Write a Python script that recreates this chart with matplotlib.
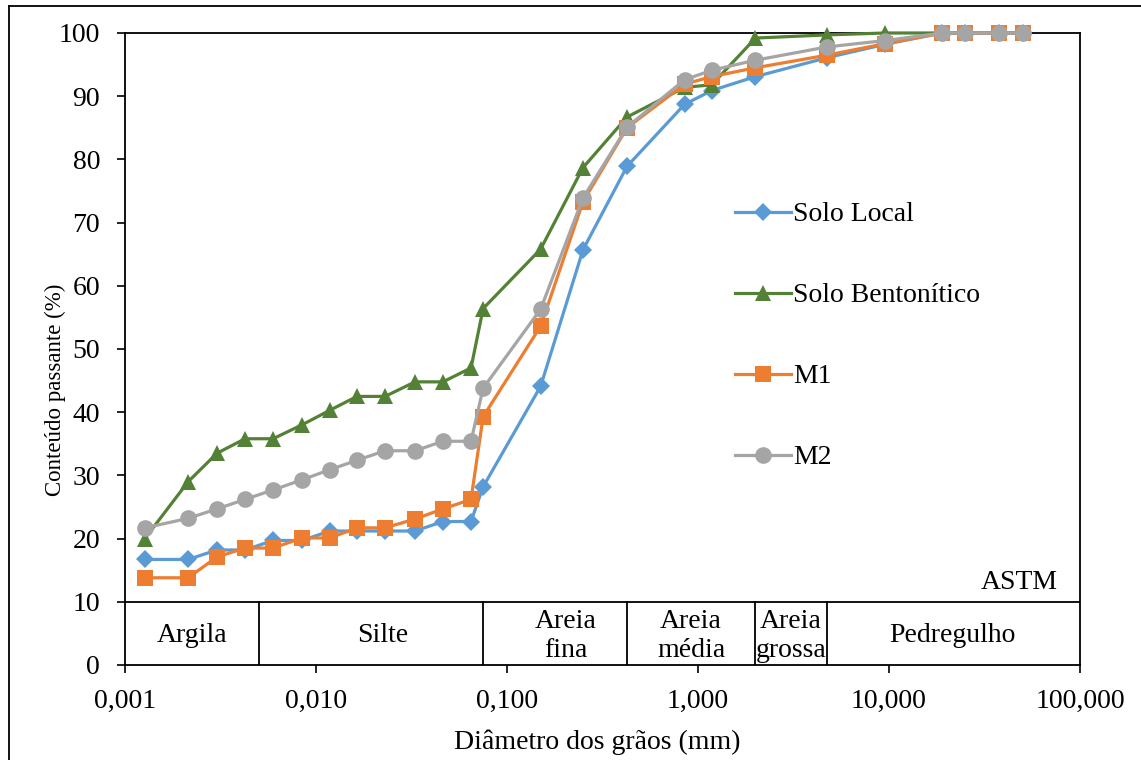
import matplotlib.pyplot as plt
from matplotlib.ticker import FixedLocator, FuncFormatter, NullLocator
from matplotlib.lines import Line2D

plt.rcParams['font.family'] = ['Liberation Serif', 'DejaVu Serif']

# Diâmetros (mm): sedimentação + peneiras
diametros = [0.00127, 0.00214, 0.00303, 0.00425, 0.00596, 0.00845, 0.0118,
             0.0164, 0.0230, 0.0330, 0.0462, 0.0648, 0.075, 0.15, 0.25, 0.425,
             0.85, 1.18, 2.0, 4.75, 9.5, 19.0, 25.0, 37.5, 50.0]

solo_local = [16.7, 16.7, 18.2, 18.2, 19.7, 19.7, 21.2, 21.2, 21.2, 21.2, 22.7,
              22.7, 28.2, 44.1, 65.7, 78.9, 88.7, 90.9, 93.1, 96.1, 98.2,
              100, 100, 100, 100]
solo_bentonitico = [20.0, 29.0, 33.5, 35.8, 35.8, 38.0, 40.3, 42.5, 42.5, 44.8,
                    44.8, 47.0, 56.4, 65.8, 78.7, 86.7, 91.4, 91.8, 99.2, 99.7,
                    100, 100, 100, 100, 100]
m1 = [13.8, 13.8, 17.1, 18.5, 18.5, 20.1, 20.1, 21.7, 21.7, 23.1, 24.7, 26.2,
      39.3, 53.6, 73.3, 85.0, 91.9, 93.1, 94.5, 96.5, 98.3, 100, 100, 100, 100]
m2 = [21.7, 23.2, 24.7, 26.2, 27.7, 29.3, 30.9, 32.4, 33.9, 33.9, 35.4, 35.4,
      43.8, 56.3, 73.9, 85.1, 92.6, 94.1, 95.7, 97.8, 98.8, 100, 100, 100, 100]

# Classificação ASTM
limites_astm = [0.005, 0.075, 0.425, 2.0, 4.75]
classes = ['Argila', 'Silte', 'Areia\nfina', 'Areia\nmédia', 'Areia\ngrossa', 'Pedregulho']
pos_classes = [0.00224, 0.0224, 0.204, 0.919, 3.07, 21.6]

fig = plt.figure(figsize=(11.41, 7.6), dpi=100)
ax = fig.add_axes([125 / 1141, 1 - 665 / 760, 955 / 1141, 632 / 760])

series = [
    ('Solo Local', solo_local, '#5B9BD5', 'D', 9.5),
    ('Solo Bentonítico', solo_bentonitico, '#538135', '^', 12),
    ('M1', m1, '#ED7D31', 's', 11.5),
    ('M2', m2, '#A5A5A5', 'o', 12),
]
for nome, valores, cor, marc, ms in series:
    ax.plot(diametros, valores, color=cor, lw=2.3, marker=marc, ms=ms,
            markeredgewidth=0, label=nome, clip_on=False, zorder=3)

ax.set_xscale('log')
ax.set_xlim(0.001, 100)
ax.set_ylim(0, 100)

ax.xaxis.set_major_locator(FixedLocator([0.001, 0.01, 0.1, 1, 10, 100]))
ax.xaxis.set_minor_locator(NullLocator())
ax.xaxis.set_major_formatter(FuncFormatter(lambda v, p: f'{v:.3f}'.replace('.', ',')))
ax.set_yticks(range(0, 101, 10))

ax.tick_params(axis='both', direction='out', length=6, width=1.2, labelsize=20)
ax.tick_params(axis='y', pad=12)
ax.tick_params(axis='x', pad=11)
for s in ax.spines.values():
    s.set_linewidth(1.3)
    s.set_color('black')

# Tabela de classificação na faixa 0-10
ax.axhline(10, color='black', lw=1.3, zorder=2)
for lim in limites_astm:
    ax.plot([lim, lim], [0, 10], color='black', lw=1.3, zorder=2)
for txt, xp in zip(classes, pos_classes):
    ax.text(xp, 4.6, txt, ha='center', va='center', fontsize=20, linespacing=1.2)
ax.text(0.977, 0.131, 'ASTM', transform=ax.transAxes, ha='right', va='center', fontsize=20)

ax.set_xlabel('Diâmetro dos grãos (mm)', fontsize=20)
ax.set_ylabel('Conteúdo passante (%)', fontsize=16.5)
ax.xaxis.set_label_coords(0.495, -0.102)
ax.yaxis.set_label_coords(-0.062, 0.435)

ax.legend(loc='upper left', bbox_to_anchor=(735 / 1141, 1 - 202 / 760),
          bbox_transform=fig.transFigure, frameon=False, fontsize=20,
          labelspacing=2.0, handlelength=2.0, handletextpad=0.1, borderpad=0,
          borderaxespad=0)

# Moldura externa
fig.add_artist(Line2D([9 / 1141, 9 / 1141], [0, 1 - 6 / 760], color='black', lw=1.3,
                      transform=fig.transFigure))
fig.add_artist(Line2D([9 / 1141, 1], [1 - 6 / 760, 1 - 6 / 760], color='black', lw=1.3,
                      transform=fig.transFigure))

fig.savefig('out.png', dpi=100)
